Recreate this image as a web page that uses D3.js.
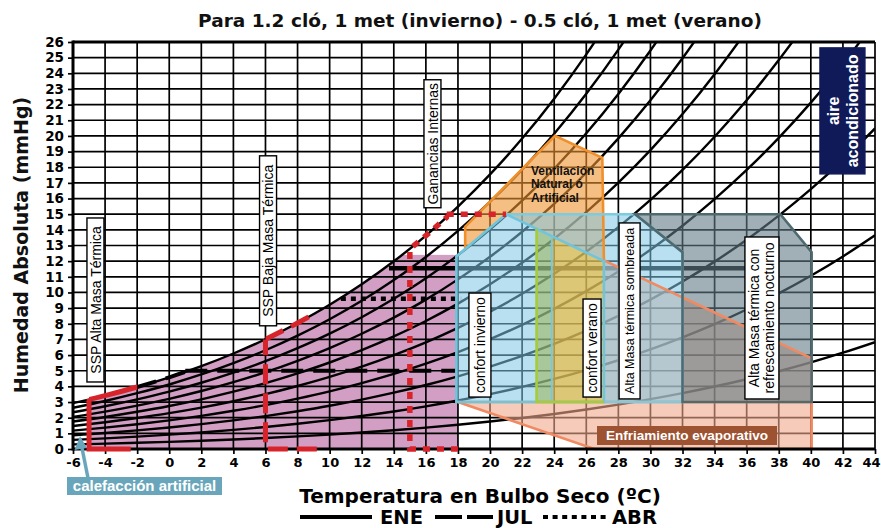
<!DOCTYPE html>
<html><head><meta charset="utf-8">
<script src="https://cdn.jsdelivr.net/npm/d3@7"></script>
<style>body{margin:0;background:#fff}svg{display:block}</style>
</head><body>
<svg id="c" width="881" height="528"></svg>
<script>
// ---------------- DATA ----------------
const temps    = [-6,-4,-2,0,2,4,6,8,10,12,14,16,18,20,22,24,26,28,30,32,34,36,38,40,42,44];
const satMmHg  = [2.93,3.41,3.96,4.58,5.29,6.10,7.01,8.05,9.21,10.52,11.99,13.63,15.48,17.54,19.83,22.38,25.21,28.35,31.82,35.66,39.90,44.56,49.69,55.32,61.50,68.26];
const rhLevels = [10,20,30,40,50,60,70,80,90,100];
const xTickLabels = [-6,-4,-2,0,2,4,6,8,10,12,14,16,18,20,22,24,26,28,30,32,34,36,38,40,42,44];
const yTickLabels = [0,1,2,3,4,5,6,7,8,9,10,11,12,13,14,15,16,17,18,19,20,21,22,23,24,25,26];

// zones (temperature ºC, humidity mmHg)
const pinkZone        = {t0:-5, t1:18, top:12.4};
const evaporativo     = [[18,3],[26.5,0],[40.05,0],[40.05,5.8],[27.1,12.05],[27.1,3]];
const ventilacion     = [[18.45,12.7],[18.45,14.2],[24.05,20],[27,18.6],[27.1,12],[21,15]];
const confortInvierno = [[17.9,3],[17.9,12.3],[21,15],[27.1,12],[27.1,3]];
const veranoVerde     = [[22.9,3],[22.9,14.05],[23.85,13.58],[23.85,3]];
const veranoAmarillo  = [[23.85,3],[23.85,13.58],[27.1,12],[27.1,3]];
const sombreada       = [[21,15],[29.05,15],[32,12.57],[32,3],[27.1,3],[27.1,12]];
const nocturno        = [[29.05,15],[38.1,15],[40.05,12.57],[40.05,3],[32,3],[32,12.57]];

// SSP / ganancias limits
const sspAlta   = {base:[[-2.4,0],[-5,0],[-5,3.2]], sat:[-5,-2]};
const sspBaja   = {base:[[9.2,0],[6,0],[6,7.0]], sat:[6,8.9]};
const ganancias = {base:[[18,0],[15,0],[15,12.8]], sat:[15,17.45], top:[[17.3,15],[21,15]]};

// monthly lines
const lineENE = [[13.7,11.55],[35.9,11.55]];
const lineJUL = {sat:[-2,1], flat:[[1,5],[18,5]]};
const lineABR = [[10.7,9.6],[18.2,9.6]];

// ---------------- SCALES ----------------
const svg = d3.select('#c');
const x = d3.scaleLinear().domain([-6,44]).range([73,875]);
const y = d3.scaleLinear().domain([0,26]).range([449,42]);
const lin = d3.line().x(d=>x(d[0])).y(d=>y(d[1]));
const smooth = d3.line().x(d=>x(d[0])).y(d=>y(d[1])).curve(d3.curveMonotoneX);
const satPts = temps.map((t,i)=>[t,satMmHg[i]]);
const defs = svg.append('defs');
let clipId = 0;
function rectClip(x0,y0,x1,y1){
  const id='cl'+(clipId++);
  defs.append('clipPath').attr('id',id).append('rect')
    .attr('x',Math.min(x0,x1)).attr('y',Math.min(y0,y1))
    .attr('width',Math.abs(x1-x0)).attr('height',Math.abs(y1-y0));
  return 'url(#'+id+')';
}
const plotClip = rectClip(x(-6),y(26),x(44),y(0));
defs.append('clipPath').attr('id','undersat').append('path')
  .attr('d', d3.area().x(d=>x(d[0])).y0(y(0)).y1(d=>y(d[1])).curve(d3.curveMonotoneX)(satPts));

const font = 'Liberation Sans, Arial, sans-serif';
const fontV = 'DejaVu Sans, Verdana, sans-serif';

// ---------------- PINK ZONE (under grid) ----------------
svg.append('g').attr('clip-path','url(#undersat)').append('rect')
  .attr('x',x(pinkZone.t0)).attr('y',y(pinkZone.top))
  .attr('width',x(pinkZone.t1)-x(pinkZone.t0)).attr('height',y(0)-y(pinkZone.top))
  .attr('fill','#d29ec4');

// ---------------- GRID ----------------
const grid = svg.append('g');
xTickLabels.forEach(t=>grid.append('line').attr('x1',x(t)).attr('x2',x(t)).attr('y1',y(0)).attr('y2',y(26))
  .attr('stroke','#000').attr('stroke-width',1.7));
yTickLabels.forEach(v=>grid.append('line').attr('x1',x(-6)).attr('x2',x(44)).attr('y1',y(v)).attr('y2',y(v))
  .attr('stroke','#000').attr('stroke-width',1.7));

// ---------------- RH CURVES ----------------
const curves = svg.append('g').attr('clip-path',plotClip);
rhLevels.forEach(rh=>{
  curves.append('path').attr('d',smooth(temps.map((t,i)=>[t,satMmHg[i]*rh/100])))
    .attr('fill','none').attr('stroke','#000').attr('stroke-width',2.4);
});

// ---------------- MONTH LINES ----------------
function satSeg(g,t0,t1,ymax,attrs){
  const p = g.append('path').attr('d',smooth(satPts)).attr('fill','none')
    .attr('clip-path',rectClip(x(t0),y(ymax),x(t1),y(-1)));
  Object.entries(attrs).forEach(([k,v])=>p.attr(k,v));
  return p;
}
const months = svg.append('g');
months.append('path').attr('d',lin(lineENE)).attr('stroke','#000').attr('stroke-width',4.5).attr('fill','none');
satSeg(months,lineJUL.sat[0],lineJUL.sat[1],26,{stroke:'#000','stroke-width':4,'stroke-dasharray':'22,10'});
months.append('path').attr('d',lin(lineJUL.flat)).attr('stroke','#000').attr('stroke-width',4)
  .attr('stroke-dasharray','22,10').attr('fill','none');
months.append('path').attr('d',lin(lineABR)).attr('stroke','#000').attr('stroke-width',4.5)
  .attr('stroke-dasharray','5,5').attr('fill','none');

// ---------------- ZONE FILLS ----------------
const zl = d3.line().x(d=>x(d[0])).y(d=>y(d[1]));
function poly(pts, fill, op){
  return svg.append('path').attr('d',zl(pts)+'Z').attr('fill',fill).attr('fill-opacity',op).attr('stroke','none');
}
poly(evaporativo,'#f2a98a',0.6);
poly(ventilacion,'#ee9530',0.6);
poly(confortInvierno,'#80c7e4',0.55);
poly(veranoVerde,'#97b046',0.5);
poly(veranoAmarillo,'#f3b525',0.6);
poly(sombreada,'#80c7e4',0.55);
poly(nocturno,'#617b85',0.6);

// ---------------- ZONE STROKES ----------------
function stroke(pts,color,w,close){
  svg.append('path').attr('d',zl(pts)+(close?'Z':'')).attr('fill','none').attr('stroke',color)
    .attr('stroke-width',w).attr('stroke-linejoin','miter');
}
stroke([[18,3],[26.5,0],[40.05,0],[40.05,5.8],[27.1,12.05]],'#f08a62',2.6,false);
stroke([[18,3],[40.05,3]],'#f08a62',2.6,false);
stroke(ventilacion.slice(0,5),'#f0902c',2.6,false);
stroke(sombreada.slice(0,5),'#7ccbe0',2.6,false);
stroke(nocturno,'#4f6a6f',2.6,true);
stroke(confortInvierno,'#6fc5dc',2.6,true);
stroke([[23.85,3],[23.85,13.58]],'#7cc6dc',2,false);
stroke([[22.9,14.05],[22.9,3],[27.1,3]],'#a6cc36',2.6,false);

// ---------------- AXES ----------------
const axG = svg.append('g');
axG.append('line').attr('x1',x(-6)).attr('x2',x(44)).attr('y1',y(26)).attr('y2',y(26)).attr('stroke','#000').attr('stroke-width',3);
axG.append('line').attr('x1',x(-6)).attr('x2',x(-6)).attr('y1',y(26)-1.5).attr('y2',y(0)+1.5).attr('stroke','#000').attr('stroke-width',3);
axG.append('line').attr('x1',x(-6)).attr('x2',x(44)).attr('y1',y(0)).attr('y2',y(0)).attr('stroke','#000').attr('stroke-width',3);
const xAxis = svg.append('g').attr('transform',`translate(0,${y(0)})`)
  .call(d3.axisBottom(x).tickValues(xTickLabels).tickSize(5).tickPadding(4).tickFormat(d=>String(d)));
xAxis.select('.domain').remove();
xAxis.selectAll('line').attr('stroke','#000').attr('stroke-width',1.7);
xAxis.selectAll('text').attr('font-family',fontV).attr('font-weight','bold').attr('font-size',13).attr('fill','#000')
  .attr('dx',d=>d===44?-4:0);
const yAxis = svg.append('g').attr('transform',`translate(${x(-6)},0)`)
  .call(d3.axisLeft(y).tickValues(yTickLabels).tickSize(5).tickPadding(4).tickFormat(d=>String(d)));
yAxis.select('.domain').remove();
yAxis.selectAll('line').attr('stroke','#000').attr('stroke-width',1.7);
yAxis.selectAll('text').attr('font-family',fontV).attr('font-weight','bold').attr('font-size',13.5).attr('fill','#000');

// ---------------- RED LIMITS ----------------
const red = '#d7232a';
const rg = svg.append('g');
rg.append('path').attr('d',lin(sspAlta.base)).attr('fill','none').attr('stroke',red).attr('stroke-width',5);
satSeg(rg,sspAlta.sat[0],sspAlta.sat[1],26,{stroke:red,'stroke-width':5});
rg.append('path').attr('d',lin(sspBaja.base)).attr('fill','none').attr('stroke',red).attr('stroke-width',5).attr('stroke-dasharray','20,9');
satSeg(rg,sspBaja.sat[0],sspBaja.sat[1],26,{stroke:red,'stroke-width':5,'stroke-dasharray':'20,9'});
rg.append('path').attr('d',lin(ganancias.base)).attr('fill','none').attr('stroke',red).attr('stroke-width',5.5).attr('stroke-dasharray','7,7');
satSeg(rg,ganancias.sat[0],ganancias.sat[1],15,{stroke:red,'stroke-width':5.5,'stroke-dasharray':'7,7'});
rg.append('path').attr('d',lin(ganancias.top)).attr('fill','none').attr('stroke',red).attr('stroke-width',5.5).attr('stroke-dasharray','7,7');

// ---------------- LABEL BOXES ----------------
function vbox(cx,cy,w,h,lines,fs,o={}){
  const g = svg.append('g').attr('transform',`translate(${cx},${cy}) rotate(-90)`);
  g.append('rect').attr('x',-h/2).attr('y',-w/2).attr('width',h).attr('height',w)
    .attr('fill',o.fill||'#fff').attr('stroke',o.stroke||'#000').attr('stroke-width',1.4);
  const lh = o.lh||fs*1.15;
  lines.forEach((t,i)=>g.append('text').attr('x',0).attr('y',(i-(lines.length-1)/2)*lh)
    .attr('dy','0.36em').attr('text-anchor','middle').attr('font-family',font)
    .attr('font-weight',o.weight||'normal').attr('font-size',fs).attr('fill',o.color||'#000').text(t));
}
vbox(x(-4.6),y(9.52),17,164,['SSP Alta Masa Térmica'],14);
vbox(x(6.16),y(13.3),17,170,['SSP Baja Masa Térmica'],14);
vbox(x(16.41),y(19.5),17,128,['Ganancias Internas'],14);
vbox(x(19.37),y(6.64),22,104,['confort invierno'],14);
vbox(x(26.36),y(6.45),18,98,['confort verano'],14);
vbox(x(28.7),y(8.82),21,176,['Alta Masa térmica sombreada'],12.5);
vbox(x(36.95),y(8.37),34,162,['Alta Masa térmica con','refrescamiento nocturno'],14,{lh:15});
vbox(x(41.97),y(21.6),45,126,['aire','acondicionado'],16,{fill:'#101a58',stroke:'#101a58',color:'#fff',weight:'bold',lh:19});

// Ventilación text
const vt = svg.append('text').attr('font-family',font).attr('font-weight','bold').attr('font-size',12).attr('fill','#111');
['Ventilación','Natural ó','Artificial'].forEach((t,i)=>vt.append('tspan').attr('x',x(22.55)).attr('y',y(17.5)+i*13.3).text(t));

// Enfriamiento evaporativo
svg.append('rect').attr('x',597).attr('y',426).attr('width',180).attr('height',19).attr('fill','#9d5232');
svg.append('text').attr('x',687).attr('y',435.5).attr('dy','0.36em').attr('text-anchor','middle')
  .attr('font-family',font).attr('font-weight','bold').attr('font-size',13.5).attr('fill','#fff').text('Enfriamiento evaporativo');

// calefacción artificial
const cc = '#69a6bb';
svg.append('line').attr('x1',88).attr('y1',478).attr('x2',82).attr('y2',448).attr('stroke',cc).attr('stroke-width',3.5);
svg.append('path').attr('d','M80,436 L74.5,450 L87,448 Z').attr('fill',cc);
svg.append('rect').attr('x',67).attr('y',477).attr('width',155).attr('height',18).attr('fill',cc);
svg.append('text').attr('x',144.5).attr('y',486).attr('dy','0.36em').attr('text-anchor','middle')
  .attr('font-family',font).attr('font-weight','bold').attr('font-size',15).attr('fill','#fff').text('calefacción artificial');

// ---------------- TITLES ----------------
svg.append('text').attr('x',480).attr('y',27).attr('text-anchor','middle').attr('font-family',fontV)
  .attr('font-weight','bold').attr('font-size',18.5).attr('fill','#111').text('Para 1.2 cló, 1 met (invierno) - 0.5 cló, 1 met (verano)');
svg.append('text').attr('transform','translate(28,245) rotate(-90)').attr('text-anchor','middle').attr('font-family',fontV)
  .attr('font-weight','bold').attr('font-size',19).attr('fill','#111').text('Humedad Absoluta (mmHg)');
svg.append('text').attr('x',480).attr('y',503).attr('text-anchor','middle').attr('font-family',fontV)
  .attr('font-weight','bold').attr('font-size',20).attr('fill','#000').text('Temperatura en Bulbo Seco (ºC)');

// legend
const lg = svg.append('g');
lg.append('line').attr('x1',300).attr('x2',372).attr('y1',517).attr('y2',517).attr('stroke','#000').attr('stroke-width',4);
lg.append('line').attr('x1',435).attr('x2',493).attr('y1',517).attr('y2',517).attr('stroke','#000').attr('stroke-width',4).attr('stroke-dasharray','27,5');
lg.append('line').attr('x1',543).attr('x2',610).attr('y1',517).attr('y2',517).attr('stroke','#000').attr('stroke-width',4).attr('stroke-dasharray','5,4.6');
[['ENE',380],['JUL',497],['ABR',612]].forEach(([t,px])=>lg.append('text').attr('x',px).attr('y',524)
  .attr('font-family',fontV).attr('font-weight','bold').attr('font-size',19.5).attr('fill','#000').text(t));
</script>
</body></html>
